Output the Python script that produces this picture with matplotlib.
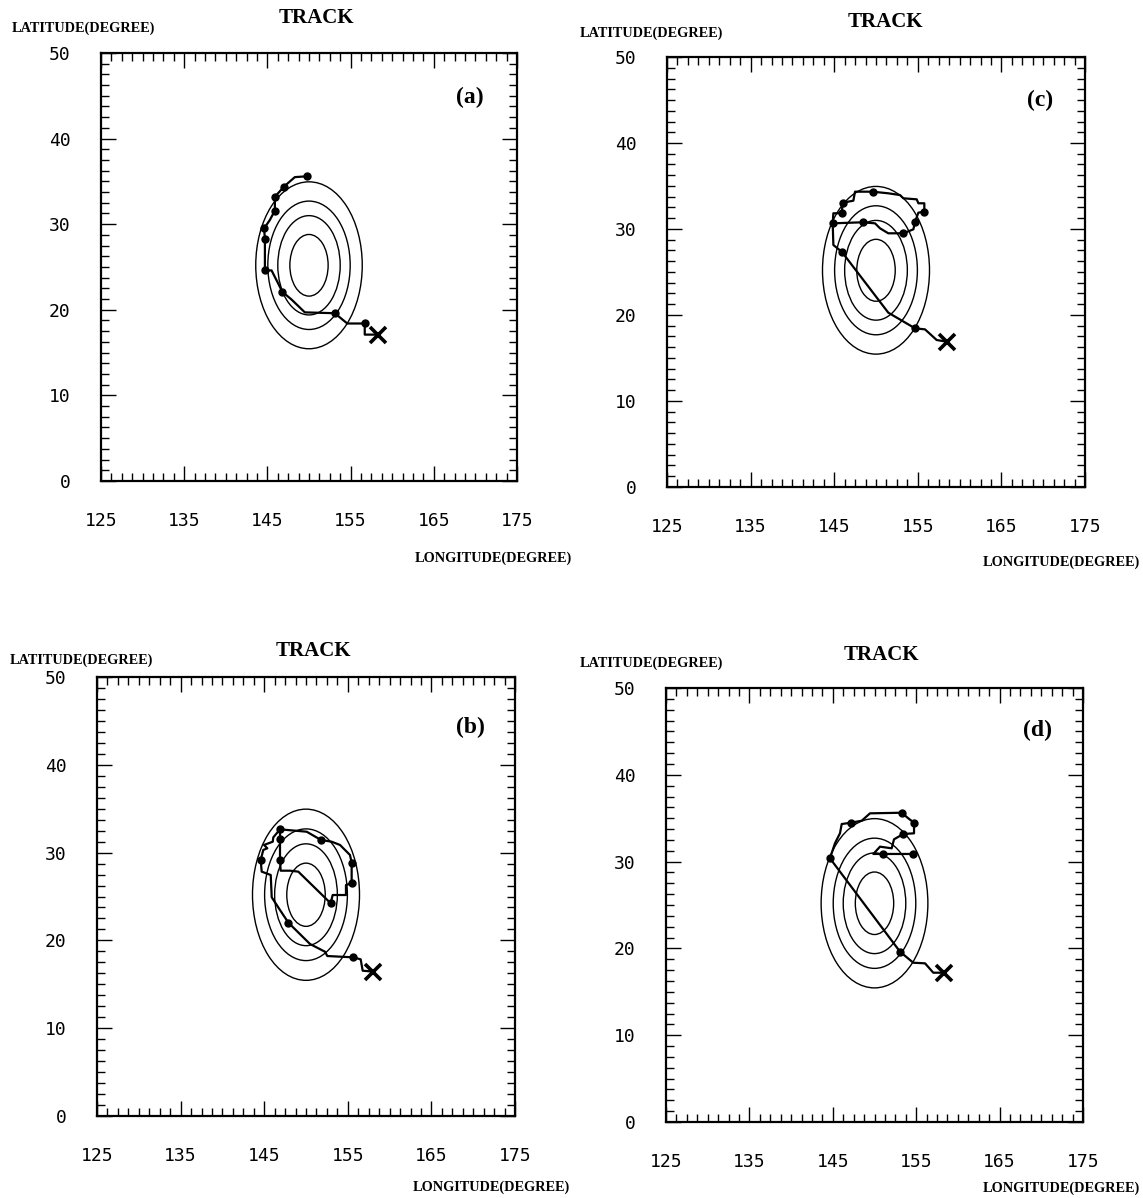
import matplotlib.pyplot as plt
from matplotlib.patches import Ellipse
from matplotlib.ticker import MultipleLocator

# vortex rings (centre and half widths in degrees)
ring_lon0, ring_lat0 = 150.0, 25.2
ring_dlon = [2.3, 3.75, 4.95, 6.4]
ring_dlat = [3.6, 5.8, 7.5, 9.75]

# tracks, first point is the start (X)
a_lon = [158.3, 156.7, 156.7, 154.6, 153.1, 149.5, 147.9, 146.8, 145.5, 144.7,
         144.7, 144.6, 145.3, 145.9, 145.9, 147.0, 148.3, 149.8]
a_lat = [17.1, 17.1, 18.4, 18.4, 19.6, 19.7, 21.2, 22.1, 24.6, 24.6,
         28.3, 29.5, 30.5, 31.6, 33.2, 34.4, 35.5, 35.6]
a_dots = [2, 4, 7, 9, 10, 11, 13, 14, 15, 17]

b_lon = [158.05, 156.78, 156.54, 155.66, 152.55, 152.27, 150.48, 147.89, 146.89, 145.90,
         145.78, 144.70, 144.58, 144.89, 145.37, 144.98, 146.02, 146.09, 146.89, 150.08,
         151.79, 153.07, 154.07, 155.26, 155.46, 155.46, 155.46, 154.78, 154.78, 153.19,
         152.95, 149.08, 148.09, 146.97, 146.89, 146.89, 146.89]
b_lat = [16.44, 16.55, 17.84, 18.07, 18.22, 18.71, 19.59, 22.02, 23.46, 24.91,
         27.45, 27.83, 29.16, 30.30, 30.49, 30.87, 31.24, 31.74, 32.65, 32.38,
         31.44, 31.24, 30.87, 29.73, 28.85, 26.88, 26.50, 26.31, 25.17, 25.17,
         24.23, 27.83, 27.94, 27.94, 29.16, 31.51, 32.65]
b_dots = [3, 7, 12, 18, 20, 24, 26, 30, 34, 35]

c_lon = [158.46, 157.26, 155.86, 154.67, 151.47, 145.90, 144.90, 144.82, 148.41, 149.88,
         150.48, 151.47, 153.27, 154.47, 154.67, 155.07, 155.78, 155.78, 155.07, 154.87,
         153.27, 152.87, 151.47, 149.60, 147.49, 147.29, 146.02, 145.90, 144.90, 144.82]
c_lat = [16.90, 17.09, 18.33, 18.45, 20.27, 27.36, 28.14, 30.66, 30.78, 30.66,
         30.08, 29.50, 29.50, 29.96, 30.85, 31.90, 32.01, 32.99, 32.99, 33.45,
         33.57, 33.95, 34.15, 34.34, 34.34, 33.29, 33.06, 31.83, 31.83, 30.66]
c_dots = [3, 5, 7, 8, 12, 14, 16, 23, 26, 27]

d_lon = [158.33, 157.05, 156.06, 154.65, 153.06, 144.66, 145.26, 145.86, 146.07, 147.18,
         148.47, 149.46, 153.26, 154.06, 154.74, 154.74, 153.46, 152.34, 152.06, 150.66,
         149.86, 150.98, 154.58]
d_lat = [17.20, 17.20, 18.28, 18.35, 19.62, 30.38, 32.11, 33.26, 34.33, 34.48,
         34.71, 35.56, 35.63, 34.98, 34.48, 33.26, 33.18, 32.57, 31.53, 31.72,
         30.88, 30.88, 30.88]
d_dots = [4, 5, 9, 12, 14, 16, 21, 22]

W, H = 1143, 1198
fig = plt.figure(figsize=(W / 100, H / 100), dpi=100)

def fx(px):
    return px / W

def fy(py):
    return 1 - py / H

serif = ['Liberation Serif', 'DejaVu Serif']

panels = [
    # tag, lon, lat, dots, frame (left, right, top, bottom), title, lat label, lon label, tag pos
    ('(a)', a_lon, a_lat, a_dots, (101, 517, 53, 481), (316, 18), (12, 28), (572, 558), (470, 97)),
    ('(c)', c_lon, c_lat, c_dots, (667, 1085, 57, 487), (885, 22), (580, 33), (1140, 562), (1040, 100)),
    ('(b)', b_lon, b_lat, b_dots, (97, 515, 677, 1116), (313, 651), (10, 660), (570, 1187), (470, 727)),
    ('(d)', d_lon, d_lat, d_dots, (666, 1083, 688, 1122), (881, 655), (580, 663), (1140, 1188), (1037, 730)),
]

for tag, lon, lat, dots, fr, tpos, ypos, xpos, gpos in panels:
    l, r, t, b = fr
    ax = fig.add_axes([fx(l), fy(b), (r - l) / W, (b - t) / H])
    ax.set_xlim(125, 175)
    ax.set_ylim(0, 50)

    for dx, dy in zip(ring_dlon, ring_dlat):
        ax.add_patch(Ellipse((ring_lon0, ring_lat0), 2 * dx, 2 * dy,
                             fill=False, ec='k', lw=1.0))

    ax.plot(lon, lat, 'k-', lw=1.6)
    ax.plot([lon[i] for i in dots], [lat[i] for i in dots], 'ko', ms=5)
    ax.plot(lon[0], lat[0], 'kx', ms=11, mew=2.6)

    ax.set_xticks(range(125, 176, 10))
    ax.set_yticks(range(0, 51, 10))
    ax.xaxis.set_minor_locator(MultipleLocator(1.25))
    ax.yaxis.set_minor_locator(MultipleLocator(1.25))
    ax.tick_params(which='both', direction='in', top=True, right=True,
                   width=1.0, labelsize=13)
    ax.tick_params(which='major', length=11, pad=22)
    ax.tick_params(which='minor', length=6)
    for lab in ax.get_xticklabels() + ax.get_yticklabels():
        lab.set_family('DejaVu Sans Mono')
    for s in ax.spines.values():
        s.set_linewidth(1.6)

    fig.text(fx(tpos[0]), fy(tpos[1]), 'TRACK', ha='center', va='center',
             family=serif, weight='bold', fontsize=15)
    fig.text(fx(ypos[0]), fy(ypos[1]), 'LATITUDE(DEGREE)', ha='left', va='center',
             family=serif, weight='bold', fontsize=10.3)
    fig.text(fx(xpos[0]), fy(xpos[1]), 'LONGITUDE(DEGREE)', ha='right', va='center',
             family=serif, weight='bold', fontsize=10.3)
    fig.text(fx(gpos[0]), fy(gpos[1]), tag, ha='center', va='center',
             family=serif, weight='bold', fontsize=17)

fig.savefig('out.png', dpi=100)
